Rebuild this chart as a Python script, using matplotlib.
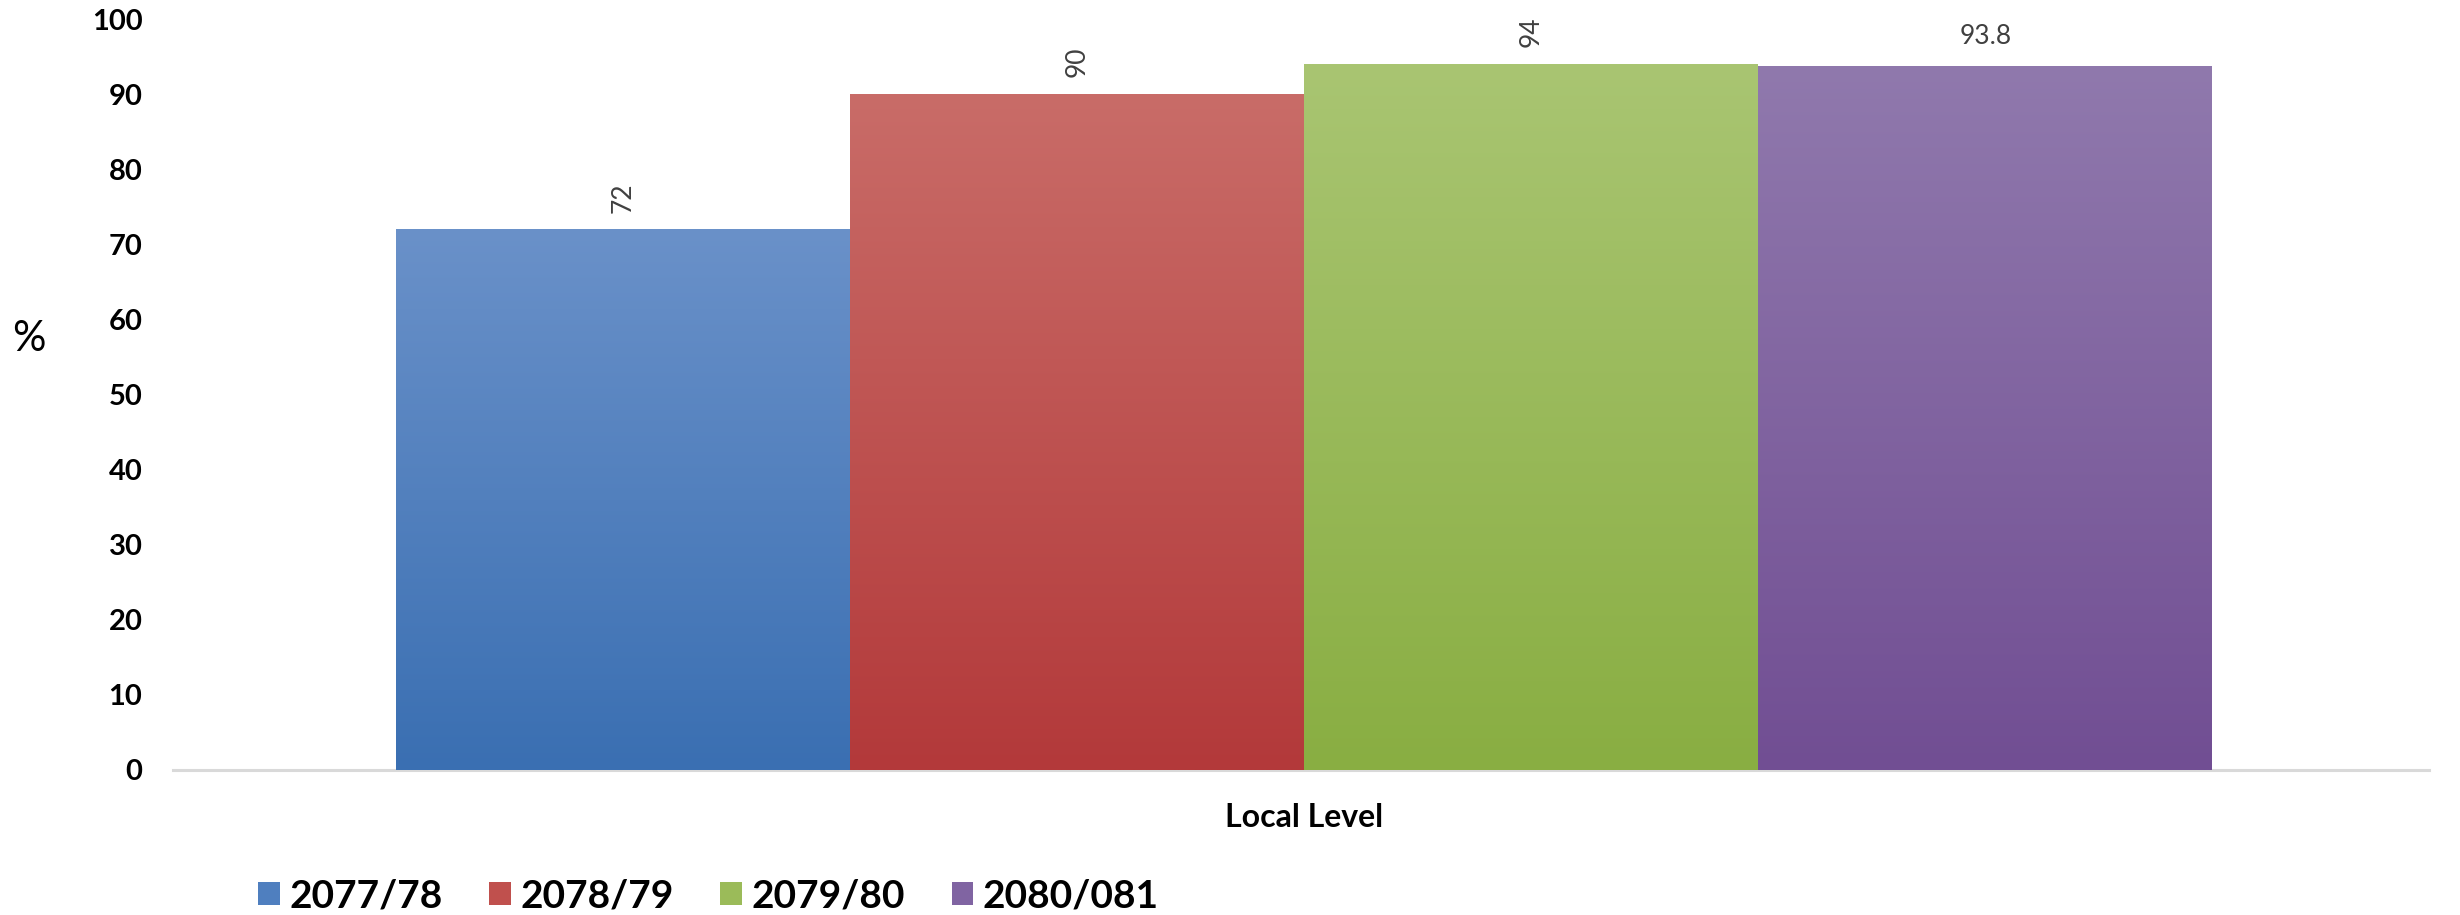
import matplotlib.pyplot as plt
import numpy as np
from matplotlib.colors import LinearSegmentedColormap
from matplotlib.patches import Patch

plt.rcParams['font.family'] = ['Lato', 'DejaVu Sans']

# Data
category = 'Local Level'
years = ['2077/78', '2078/79', '2079/80', '2080/081']
values = [72, 90, 94, 93.8]
value_labels = ['72', '90', '94', '93.8']
label_rotation = [90, 90, 90, 0]

# gradient colours (top, bottom) per series
top_colors = ['#6A91C9', '#C96C68', '#A9C572', '#9079AD']
bottom_colors = ['#3A6FB2', '#B3393A', '#89AE42', '#714E93']
legend_colors = ['#4F7FBF', '#C0504D', '#9BBB59', '#8064A2']

fig = plt.figure(figsize=(24.6, 9.15), dpi=100)
ax = fig.add_axes([0.0703, 0.1585, 0.917, 0.8207])

n = len(values)
width = 0.805 / n
offsets = (np.arange(n) - (n - 1) / 2) * width

bars = ax.bar(offsets, values, width=width, color=legend_colors, linewidth=0, zorder=2)

# gradient fill clipped to each bar
grad = np.linspace(0, 1, 256).reshape(-1, 1)
for bar, c_top, c_bot in zip(bars, top_colors, bottom_colors):
    cmap = LinearSegmentedColormap.from_list('g', [c_bot, c_top])
    x0 = bar.get_x()
    h = bar.get_height()
    im = ax.imshow(grad, cmap=cmap, extent=[x0, x0 + bar.get_width(), 0, h],
                   origin='lower', aspect='auto', zorder=3)
    im.set_clip_path(bar)

# value labels
for bar, lab, rot in zip(bars, value_labels, label_rotation):
    xc = bar.get_x() + bar.get_width() / 2
    ax.annotate(lab, (xc, bar.get_height()), xytext=(0, 12), textcoords='offset points',
                ha='center', va='bottom', rotation=rot, fontsize=19, color='#404040')

ax.set_xlim(-0.5015, 0.4985)
ax.set_ylim(0, 100)
ax.set_yticks(np.arange(0, 101, 10))
ax.set_xticks([0])
ax.set_xticklabels([category], fontsize=23, fontweight='bold')
ax.tick_params(axis='x', length=0, pad=24)
ax.tick_params(axis='y', length=0, pad=22, labelsize=21)
for t in ax.get_yticklabels():
    t.set_fontweight('bold')

for s in ['top', 'right', 'left']:
    ax.spines[s].set_visible(False)
ax.spines['bottom'].set_color('#D9D9D9')
ax.spines['bottom'].set_linewidth(2.2)

fig.text(0.005, 0.63, '%', fontsize=30, ha='left', va='center')

handles = [Patch(facecolor=c, edgecolor='none') for c in legend_colors]
fig.legend(handles, years, loc='center left', bbox_to_anchor=(0.105, 0.021), ncol=4,
           frameon=False, prop={'weight': 'bold', 'size': 28},
           handlelength=0.55, handleheight=0.55, handletextpad=0.25,
           columnspacing=1.2, borderpad=0, borderaxespad=0)

fig.savefig('out.png', dpi=100)
